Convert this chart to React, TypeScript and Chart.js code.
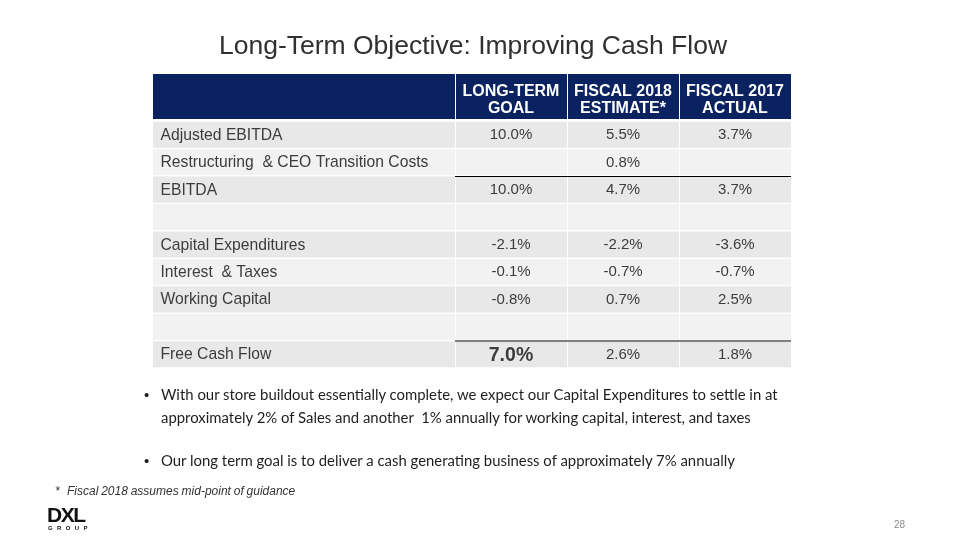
import React, { useEffect, useRef } from "react";
import { Chart, registerables } from "chart.js";

Chart.register(...registerables);

// ---------- data ----------
const TITLE = "Long-Term Objective: Improving Cash Flow";
const columnHeaders: string[][] = [
  ["LONG-TERM", "GOAL"],
  ["FISCAL 2018", "ESTIMATE*"],
  ["FISCAL 2017", "ACTUAL"],
];
const rowLabels = [
  "Adjusted EBITDA",
  "Restructuring  & CEO Transition Costs",
  "EBITDA",
  "",
  "Capital Expenditures",
  "Interest  & Taxes",
  "Working Capital",
  "",
  "Free Cash Flow",
];
const longTermGoal: (number | null)[] = [10.0, null, 10.0, null, -2.1, -0.1, -0.8, null, 7.0];
const fiscal2018Estimate: (number | null)[] = [5.5, 0.8, 4.7, null, -2.2, -0.7, 0.7, null, 2.6];
const fiscal2017Actual: (number | null)[] = [3.7, null, 3.7, null, -3.6, -0.7, 2.5, null, 1.8];
const bullets: string[][] = [
  [
    "With our store buildout essentially complete, we expect our Capital Expenditures to settle in at",
    "approximately 2% of Sales and another  1% annually for working capital, interest, and taxes",
  ],
  ["Our long term goal is to deliver a cash generating business of approximately 7% annually"],
];
const FOOTNOTE = "Fiscal 2018 assumes mid-point of guidance";
const PAGE = "28";

// ---------- layout / style ----------
const COLUMN_EDGES = [0, 302, 414, 526, 638];
const NAVY = "#0B2260";
const ROW_DARK = "#E8E8E8";
const ROW_LIGHT = "#F2F2F2";
const TEXT = "#3C3C3C";
const SANS = "'Liberation Sans', Arial, sans-serif";

const valueColumns = [longTermGoal, fiscal2018Estimate, fiscal2017Actual];

const tablePlugin = {
  id: "tableCells",
  afterDatasetsDraw(chart: any) {
    const { ctx, chartArea, scales } = chart;
    const x = scales.x;
    const y = scales.y;
    const px = (v: number) => x.getPixelForValue(v);
    ctx.save();

    // header band
    const hTop = chartArea.top - 47;
    const hBot = chartArea.top - 2;
    ctx.fillStyle = NAVY;
    for (let c = 0; c < COLUMN_EDGES.length - 1; c++) {
      const l = px(COLUMN_EDGES[c]) + (c ? 1 : 0);
      const r = px(COLUMN_EDGES[c + 1]);
      ctx.fillRect(l, hTop, r - l, hBot - hTop);
    }
    ctx.fillStyle = "#FFFFFF";
    ctx.font = `bold 16px ${SANS}`;
    ctx.textAlign = "center";
    ctx.textBaseline = "alphabetic";
    columnHeaders.forEach((lines, i) => {
      const cx = (px(COLUMN_EDGES[i + 1]) + px(COLUMN_EDGES[i + 2])) / 2;
      lines.forEach((t, j) => ctx.fillText(t, cx, hTop + 22 + j * 17));
    });

    // rule lines
    const boundary = (r: number) => (y.getPixelForValue(r - 1) + y.getPixelForValue(r)) / 2;
    const x0 = px(COLUMN_EDGES[1]);
    const x1 = px(COLUMN_EDGES[COLUMN_EDGES.length - 1]);
    ctx.strokeStyle = "#000000";
    ctx.lineWidth = 1;
    ctx.beginPath();
    const b1 = Math.round(boundary(2)) + 0.5;
    ctx.moveTo(x0, b1);
    ctx.lineTo(x1, b1);
    ctx.stroke();
    ctx.strokeStyle = "#7F7F7F";
    ctx.lineWidth = 2;
    ctx.beginPath();
    const b2 = Math.round(boundary(8));
    ctx.moveTo(x0, b2);
    ctx.lineTo(x1, b2);
    ctx.stroke();

    // row labels
    ctx.fillStyle = TEXT;
    ctx.textAlign = "left";
    ctx.font = `15.7px ${SANS}`;
    rowLabels.forEach((label, r) => {
      if (!label) return;
      const cy = y.getPixelForValue(r);
      ctx.fillText(label, chartArea.left + 7.5, cy + 5);
    });

    // values
    ctx.textAlign = "center";
    valueColumns.forEach((vals, c) => {
      const cx = (px(COLUMN_EDGES[c + 1]) + px(COLUMN_EDGES[c + 2])) / 2;
      vals.forEach((v, r) => {
        if (v === null) return;
        const cy = y.getPixelForValue(r);
        const bold = c === 0 && r === rowLabels.length - 1;
        ctx.font = bold ? `bold 19.5px ${SANS}` : `15px ${SANS}`;
        ctx.fillText(`${v.toFixed(1)}%`, cx, cy + (bold ? 7 : 4.5));
      });
    });
    ctx.restore();
  },
};

type TProps = {
  x: number;
  base: number;
  size: number;
  k: number;
  family: string;
  children: React.ReactNode;
  style?: React.CSSProperties;
};
function T({ x, base, size, k, family, children, style }: TProps) {
  return (
    <div
      style={{
        position: "absolute",
        left: x,
        top: base - k * size,
        fontSize: size,
        lineHeight: `${size}px`,
        fontFamily: family,
        whiteSpace: "pre",
        ...style,
      }}
    >
      {children}
    </div>
  );
}

const K_LIB = 0.8465;
const K_LATO = 0.887;
const LATO = "Lato, 'Noto Sans', sans-serif";

export default function App() {
  const ref = useRef<HTMLCanvasElement>(null);
  useEffect(() => {
    const canvas = ref.current!;
    const chart = new Chart(canvas, {
      type: "bar",
      data: {
        labels: rowLabels,
        datasets: COLUMN_EDGES.slice(0, -1).map((start, c) => ({
          label: c === 0 ? "Item" : columnHeaders[c - 1].join(" "),
          data: rowLabels.map(() => [start + (c ? 1 : 0), COLUMN_EDGES[c + 1]] as [number, number]),
          backgroundColor: rowLabels.map((_, i) => (i % 2 === 0 ? ROW_DARK : ROW_LIGHT)),
          borderWidth: 0,
          grouped: false,
          barPercentage: 1,
          categoryPercentage: 0.95,
        })),
      } as any,
      options: {
        indexAxis: "y",
        responsive: false,
        animation: false,
        layout: { padding: { left: 153, right: 960 - 791, top: 121, bottom: 540 - 368 } },
        scales: {
          x: { type: "linear", min: 0, max: 638, display: false },
          y: { type: "category", display: false, offset: true },
        },
        plugins: {
          legend: { display: false },
          tooltip: { enabled: false },
          title: { display: false },
        },
      } as any,
      plugins: [tablePlugin],
    });
    return () => chart.destroy();
  }, []);

  const lineBases = [400, 423];
  const BSIZE = 14.9;
  return (
    <div
      style={{
        position: "absolute",
        left: 0,
        top: 0,
        width: 960,
        height: 540,
        background: "#FFFFFF",
        overflow: "hidden",
      }}
    >
      <canvas
        ref={ref}
        width={960}
        height={540}
        style={{ position: "absolute", left: 0, top: 0, width: 960, height: 540 }}
      />
      <T x={0} base={54} size={26.5} k={K_LIB} family={SANS} style={{ width: 946, textAlign: "center", color: "#303030" }}>
        {TITLE}
      </T>
      {bullets[0].map((line, i) => (
        <T key={"b0" + i} x={161} base={lineBases[i]} size={BSIZE} k={K_LATO} family={LATO} style={{ color: "#1E1E1E" }}>
          {line}
        </T>
      ))}
      <T x={144} base={400} size={15} k={K_LIB} family={SANS} style={{ color: "#1E1E1E" }}>
        {"•"}
      </T>
      <T x={161} base={466} size={BSIZE} k={K_LATO} family={LATO} style={{ color: "#1E1E1E" }}>
        {bullets[1][0]}
      </T>
      <T x={144} base={466} size={15} k={K_LIB} family={SANS} style={{ color: "#1E1E1E" }}>
        {"•"}
      </T>
      <T x={55} base={495} size={12} k={K_LIB} family={SANS} style={{ color: "#333333", fontStyle: "italic" }}>
        {"*"}
      </T>
      <T x={67} base={495} size={12} k={K_LIB} family={SANS} style={{ color: "#333333", fontStyle: "italic", wordSpacing: -0.5 }}>
        {FOOTNOTE}
      </T>
      <T x={47} base={522} size={21} k={K_LIB} family={SANS} style={{ color: "#111111", fontWeight: "bold", letterSpacing: -1.5 }}>
        {"DXL"}
      </T>
      <T x={48} base={530} size={6} k={K_LIB} family={SANS} style={{ color: "#111111", fontWeight: "bold", letterSpacing: 4.4 }}>
        {"GROUP"}
      </T>
      <T x={894} base={528} size={10} k={K_LIB} family={SANS} style={{ color: "#8C8C8C" }}>
        {PAGE}
      </T>
    </div>
  );
}
